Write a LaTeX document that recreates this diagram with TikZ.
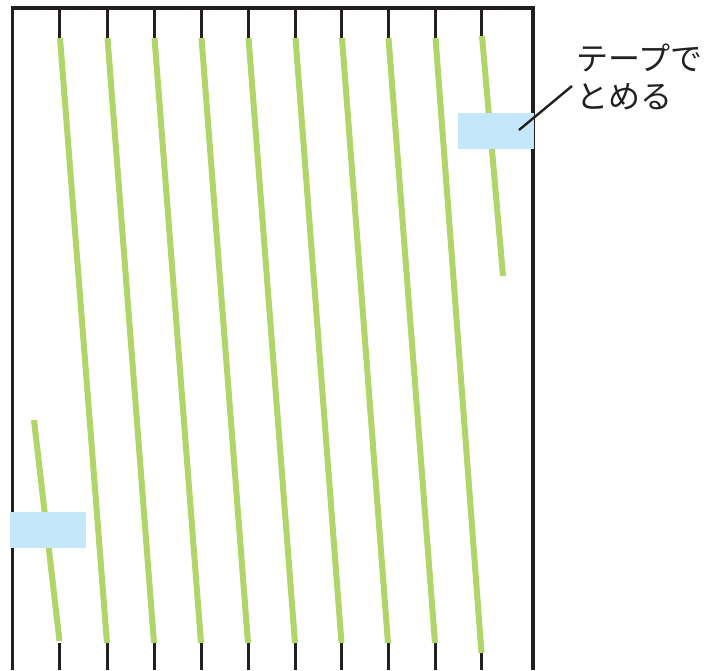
\documentclass[tikz,border=0pt]{standalone}
\usepackage{fontspec}
\newfontfamily\jpfont{Noto Sans CJK JP}
\definecolor{frameblack}{HTML}{231F20}
\definecolor{stemgreen}{HTML}{B0D66A}
\definecolor{tapeblue}{HTML}{C4E8F9}

\begin{document}
\begin{tikzpicture}[x=1pt,y=-1pt,
  frame/.style={draw=frameblack,line width=3.2pt},
  stem/.style={draw=stemgreen,line width=6pt},
  tape/.style={fill=tapeblue,inner sep=0pt,minimum width=76pt,minimum height=36pt}]
\useasboundingbox (0,0) rectangle (719,670);
% frame and ticks
\draw[frame] (12.5,670) -- (12.5,8) -- (533,8) -- (533,670);
\foreach \x in {59.5,107,154,201,248,295,341.5,388,435,481.5}
  \draw[frame,line width=3pt] (\x,8) -- (\x,38);
\foreach \x in {59.5,107,154,201,248,295,341.5,388,435}
  \draw[frame,line width=3pt] (\x,643) -- (\x,670);
\draw[frame,line width=3pt] (481.5,653) -- (481.5,670);
% stems
\foreach \a/\b/\e in {59.5/107/643,107/154/643,154/201/643,201/248/643,248/295/643,
  295/341.5/643,341.5/388/643,388/435/643,435/481.5/653}
  \draw[stem] (\a+0.5,38) -- (\b,\e);
\draw[stem] (482,36) -- (503,276);
\draw[stem] (34,420) -- (59.5,641);
% tapes
\node[tape] (tapeR) at (496,131) {};
\node[tape] (tapeL) at (48,530) {};
% note
\node[anchor=north west,inner sep=0pt,align=left,text=frameblack,
  font=\jpfont\fontsize{32}{38}\selectfont] (note) at (576,44) {テープで\\とめる};
\coordinate (tapetip) at (519,130);
\coordinate (leadend) at (572,86);
\draw[frame,line width=2.4pt] (tapetip) -- (leadend);
\end{tikzpicture}
\end{document}
